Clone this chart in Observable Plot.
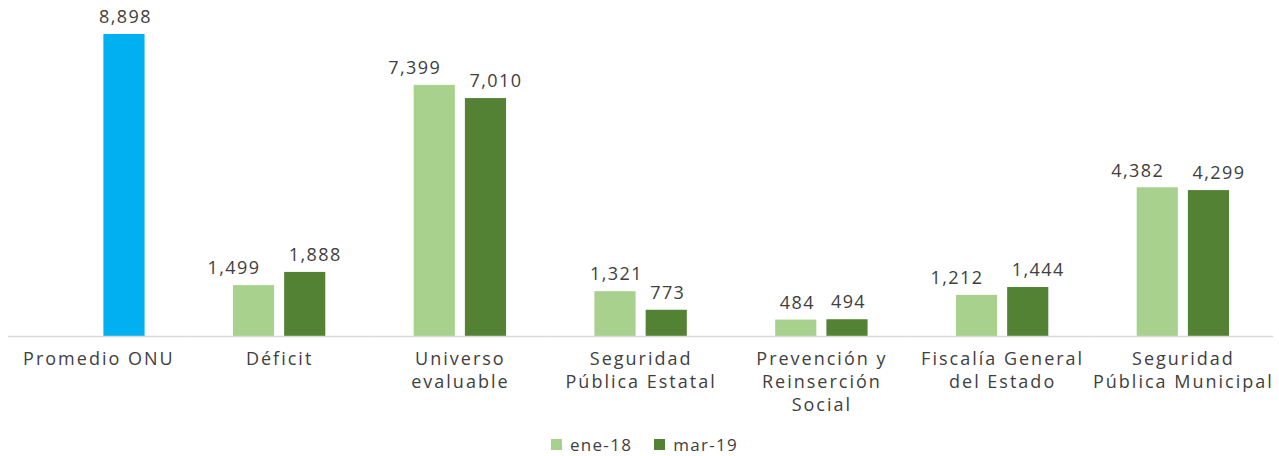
<!DOCTYPE html>
<html>
<head>
<meta charset="utf-8">
<script src="https://cdn.jsdelivr.net/npm/d3@7"></script>
<script src="https://cdn.jsdelivr.net/npm/@observablehq/plot@0.6"></script>
<style>
  html, body { margin: 0; padding: 0; background: #fff; }
  #chart { width: 1279px; }
  .legend { display: flex; justify-content: center; align-items: center; gap: 22px;
    font-family: "Open Sans", sans-serif; font-size: 17px; letter-spacing: 1.3px; color: #404040; height: 20px; padding-left: 10px; }
  .legend span.sw { display: inline-block; width: 11px; height: 11px; margin-right: 8px; vertical-align: middle; }
  .legend .item { display: flex; align-items: center; }
</style>
</head>
<body>
<div id="chart"></div>
<script>
const categories = ["Promedio ONU", "Déficit", "Universo\nevaluable", "Seguridad\nPública Estatal",
  "Prevención y\nReinserción\nSocial", "Fiscalía General\ndel Estado", "Seguridad\nPública Municipal"];
const series = ["ene-18", "mar-19"];
const ene18 = [null, 1499, 7399, 1321, 484, 1212, 4382];
const mar19 = [8898, 1888, 7010, 773, 494, 1444, 4299];

const colors = {"ene-18": "#A9D18E", "mar-19": "#548235"};
const onuColor = "#00B0F0";

const data = [];
categories.forEach((c, i) => {
  // labels are pushed apart when both labels of a pair are wide (4+ digits)
  const crowded = ene18[i] != null && mar19[i] != null && ene18[i] >= 1000 && mar19[i] >= 1000;
  if (ene18[i] != null) data.push({category: c, series: "ene-18", value: ene18[i], crowded});
  if (mar19[i] != null) data.push({category: c, series: "mar-19", value: mar19[i], crowded});
});

const font = "Open Sans, sans-serif";
const textColor = "#404040";
const fmt = d3.format(",");
const labelOpts = {fx: "category", x: "series", y: "value", text: d => fmt(d.value), dy: -17, fontSize: 18, fill: textColor};

const chart = Plot.plot({
  width: 1279,
  height: 434,
  marginTop: 34,
  marginBottom: 98,
  marginLeft: 8,
  marginRight: 5.75,
  style: {fontFamily: font, color: textColor, background: "#fff"},
  fx: {domain: categories, padding: 0, round: false, label: null},
  x: {domain: series, paddingInner: 0.196, paddingOuter: 0.863, round: false, axis: null},
  y: {domain: [0, 8898], axis: null},
  marks: [
    Plot.barY(data, {
      fx: "category", x: "series", y: "value",
      fill: d => d.category === categories[0] ? onuColor : colors[d.series]
    }),
    Plot.ruleY([0], {stroke: "#d9d9d9", strokeWidth: 1.5}),
    Plot.text(data.filter(d => !d.crowded), {...labelOpts, dx: 1}),
    Plot.text(data.filter(d => d.crowded && d.series === "ene-18"), {...labelOpts, dx: -20}),
    Plot.text(data.filter(d => d.crowded && d.series === "mar-19"), {...labelOpts, dx: 10}),
    Plot.axisFx({anchor: "bottom", tickSize: 0, tickPadding: 12, fontSize: 18, lineHeight: 1.28, label: null, fill: textColor})
  ]
});
chart.querySelectorAll("[aria-label='fx-axis tick label'] text").forEach(t => t.setAttribute("letter-spacing", "2"));
chart.querySelectorAll("[aria-label='text'] text").forEach(t => t.setAttribute("letter-spacing", "1.4"));
document.getElementById("chart").appendChild(chart);

const legend = document.createElement("div");
legend.className = "legend";
series.forEach(s => {
  const item = document.createElement("div");
  item.className = "item";
  const sw = document.createElement("span");
  sw.className = "sw";
  sw.style.background = colors[s];
  item.appendChild(sw);
  item.appendChild(document.createTextNode(s));
  legend.appendChild(item);
});
document.body.appendChild(legend);
</script>
</body>
</html>
